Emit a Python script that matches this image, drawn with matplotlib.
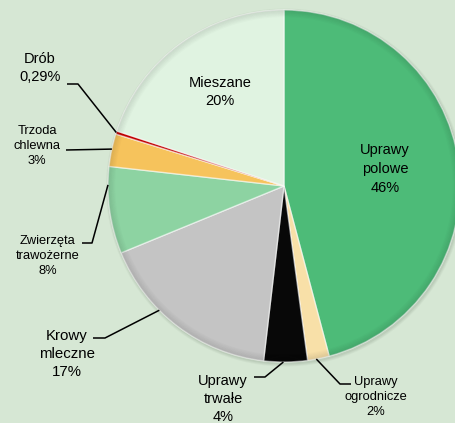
import numpy as np
import matplotlib
matplotlib.use("Agg")
import matplotlib.pyplot as plt
from matplotlib.patches import Wedge

plt.rcParams['font.family'] = ['Liberation Sans', 'DejaVu Sans']

# ---- data ----
categories = ["Uprawy\npolowe", "Uprawy\nogrodnicze", "Uprawy\ntrwałe", "Krowy\nmleczne",
              "Zwierzęta\ntrawożerne", "Trzoda\nchlewna", "Drób", "Mieszane"]
values = [46, 2, 4, 17, 8, 3, 0.29, 20]
value_labels = ["46%", "2%", "4%", "17%", "8%", "3%", "0,29%", "20%"]
colors = ["#4dbb78", "#f8e0a8", "#080808", "#c4c4c4", "#8dd3a2", "#f6c35c", "#c00000", "#e0f3e1"]

W, H = 456, 423
BG = "#d6e7d4"

fig = plt.figure(figsize=(W / 100, H / 100), dpi=100, facecolor=BG)
ax = fig.add_axes([0, 0, 1, 1])
ax.set_facecolor(BG)

def Y(py):
    return H - py

cx, cy, R = 284, Y(186), 176

# soft shadow
for k, a in [(3, 0.05), (2, 0.06), (1, 0.08)]:
    ax.add_patch(plt.Circle((cx + 1, cy - 1.5), R + k, color="#4a5a48", alpha=a, lw=0, zorder=0))

wedges, _ = ax.pie(values, colors=colors, startangle=90, counterclock=False,
                   center=(cx, cy), radius=R, frame=True,
                   wedgeprops=dict(linewidth=1.0, edgecolor=(1, 1, 1, 0.55)))
ax.set_xlim(0, W)
ax.set_ylim(0, H)
ax.axis("off")

# bevel: darker band towards the outer rim
for k in range(6):
    ax.add_patch(Wedge((cx, cy), R - k * 1.2, 0, 360, width=1.2,
                       facecolor="black", edgecolor="none", alpha=0.035 * (6 - k) / 2, zorder=3))

total = sum(values)
def angle_at(i, frac):
    start = sum(values[:i]) / total
    p = start + frac * values[i] / total
    return np.deg2rad(90 - 360 * p)

def edge_point(i, frac):
    a = angle_at(i, frac)
    return cx + R * np.cos(a), cy + R * np.sin(a)

fs = 10.5
# inside labels
ax.text(385, Y(169), categories[0] + "\n" + value_labels[0], ha="center", va="center",
        fontsize=fs, linespacing=1.45, zorder=5)
ax.text(220, Y(92), categories[7] + "\n" + value_labels[7], ha="center", va="center",
        fontsize=fs, linespacing=1.45, zorder=5)

# outside labels: (index, text centre px, font size, leader polyline px (text side), anchor fraction)
outside = [
    (6, (40, 68), 10.5, [(67, 84), (78, 84)], 0.5),
    (5, (37, 146), 9.3, [(66, 150)], 0.53),
    (4, (48, 256), 9.3, [(82, 243), (92, 243)], 0.79),
    (3, (67, 354), 10.8, [(93, 338), (105, 338)], 0.63),
    (2, (223, 399), 10.5, [(254, 377), (265, 377)], 0.55),
    (1, (376, 397), 9.3, [(351, 384), (340, 384)], 0.6),
]
for i, (tx, ty), size, pts, frac in outside:
    ax.text(tx, Y(ty), categories[i] + "\n" + value_labels[i], ha="center", va="center",
            fontsize=size, linespacing=1.35, zorder=5)
    ex, ey = edge_point(i, frac)
    xs = [p[0] for p in pts] + [ex]
    ys = [Y(p[1]) for p in pts] + [ey]
    ax.plot(xs, ys, color="black", lw=1.1, zorder=6, solid_capstyle="butt")

fig.savefig("out.png", dpi=100, facecolor=BG)
